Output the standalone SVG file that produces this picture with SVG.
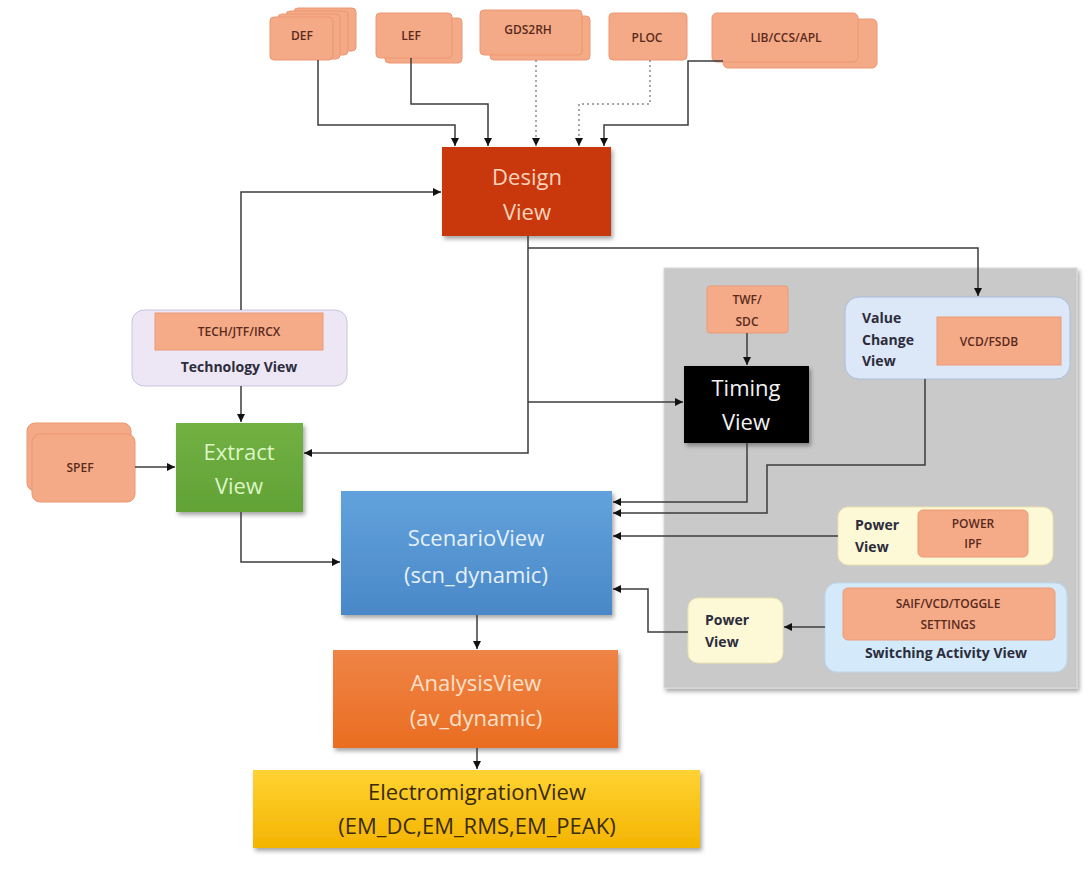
<svg xmlns="http://www.w3.org/2000/svg" width="1091" height="878" viewBox="0 0 1091 878">
<defs>
<style>
text{font-family:"Open Sans","Liberation Sans",sans-serif}
.pe{fill:#f5aa87;stroke:#eb9772;stroke-width:1}
.pt{font-size:12px;font-weight:600;fill:#5a2a1c;text-anchor:middle}
.bl{font-size:14px;font-weight:bold;fill:#2c2c3c}
.big{font-size:22px;text-anchor:middle}
.ln{fill:none;stroke:#3c3c3c;stroke-width:1.5}
.dt{fill:none;stroke:#8a8a8a;stroke-width:1.5;stroke-dasharray:2 3}
</style>
<marker id="ah" viewBox="0 0 10 10" refX="10" refY="5" markerWidth="8" markerHeight="8" markerUnits="userSpaceOnUse" orient="auto">
<path d="M0,0 L10,5 L0,10 z" fill="#111"/>
</marker>
<filter id="sh" x="-10%" y="-10%" width="125%" height="130%">
<feDropShadow dx="2" dy="3" stdDeviation="2" flood-color="#000" flood-opacity="0.35"/>
</filter>
<linearGradient id="gScn" x1="0" y1="0" x2="0" y2="1"><stop offset="0" stop-color="#62a2dc"/><stop offset="1" stop-color="#4a88c8"/></linearGradient>
<linearGradient id="gAn" x1="0" y1="0" x2="0" y2="1"><stop offset="0" stop-color="#ef8446"/><stop offset="1" stop-color="#ea6d22"/></linearGradient>
<linearGradient id="gEm" x1="0" y1="0" x2="0" y2="1"><stop offset="0" stop-color="#ffd333"/><stop offset="1" stop-color="#f4b400"/></linearGradient>
<linearGradient id="gEx" x1="0" y1="0" x2="0" y2="1"><stop offset="0" stop-color="#72b043"/><stop offset="1" stop-color="#62a236"/></linearGradient>
</defs>
<rect width="1091" height="878" fill="#fff"/>

<g id="panel">
<rect x="664" y="268" width="413" height="420" fill="#c9c9c9" stroke="#d8d8d8" filter="url(#sh)"/>
</g>

<g id="def">
<rect class="pe" x="294" y="8" width="62" height="43" rx="4"/>
<rect class="pe" x="286" y="11" width="62" height="44" rx="4"/>
<rect class="pe" x="278" y="14" width="62" height="45" rx="4"/>
<rect class="pe" x="270" y="17" width="63" height="43" rx="4"/>
<text class="pt" x="302" y="40">DEF</text>
</g>
<g id="lef">
<rect class="pe" x="385" y="18" width="77" height="45" rx="4"/>
<rect class="pe" x="376" y="13" width="76" height="45" rx="4"/>
<text class="pt" x="411" y="40">LEF</text>
</g>
<g id="gds2rh">
<rect class="pe" x="490" y="16" width="100" height="44" rx="4"/>
<rect class="pe" x="480" y="10" width="102" height="45" rx="4"/>
<text class="pt" x="528" y="34">GDS2RH</text>
</g>
<g id="ploc">
<rect class="pe" x="609" y="13" width="78" height="47" rx="4"/>
<text class="pt" x="647" y="42">PLOC</text>
</g>
<g id="lib">
<rect class="pe" x="723" y="19" width="154" height="49" rx="5"/>
<rect class="pe" x="712" y="13" width="146" height="49" rx="5"/>
<text class="pt" x="786" y="42">LIB/CCS/APL</text>
</g>

<g id="design">
<rect x="442" y="147" width="169" height="89" fill="#c9390f" filter="url(#sh)"/>
<text class="big" x="527" y="185" fill="#fbd3bd">Design</text>
<text class="big" x="527" y="220" fill="#fbd3bd">View</text>
</g>

<g id="tech">
<rect x="132" y="310" width="215" height="76" rx="12" fill="#ede7f5" stroke="#cbc2dd"/>
<rect x="155" y="313" width="168" height="37" fill="#f5ab88" stroke="#ec9a76"/>
<text class="pt" x="239" y="336">TECH/JTF/IRCX</text>
<text class="bl" x="239" y="372" text-anchor="middle">Technology View</text>
</g>

<g id="spef">
<rect class="pe" x="27" y="423" width="104" height="68" rx="8"/>
<rect class="pe" x="32" y="434" width="103" height="68" rx="8"/>
<text class="pt" x="80" y="472">SPEF</text>
</g>

<g id="extract">
<rect x="176" y="423" width="127" height="89" fill="url(#gEx)" filter="url(#sh)"/>
<text class="big" x="239" y="460" fill="#dcf6c6">Extract</text>
<text class="big" x="239" y="494" fill="#dcf6c6">View</text>
</g>

<g id="scenario">
<rect x="341" y="491" width="271" height="124" fill="url(#gScn)" filter="url(#sh)"/>
<text class="big" x="476" y="546" fill="#e6f0fb">ScenarioView</text>
<text class="big" x="476" y="583" fill="#e6f0fb">(scn_dynamic)</text>
</g>

<g id="analysis">
<rect x="333" y="650" width="285" height="98" fill="url(#gAn)" filter="url(#sh)"/>
<text class="big" x="476" y="691" fill="#fde0cb">AnalysisView</text>
<text class="big" x="476" y="726" fill="#fde0cb">(av_dynamic)</text>
</g>

<g id="em">
<rect x="253" y="770" width="447" height="78" fill="url(#gEm)" filter="url(#sh)"/>
<text class="big" x="477" y="800" fill="#3a2c08" font-size="23">ElectromigrationView</text>
<text class="big" x="477" y="834" fill="#3a2c08" font-size="23">(EM_DC,EM_RMS,EM_PEAK)</text>
</g>

<g id="twf">
<rect x="707" y="286" width="81" height="47" rx="3" fill="#f5ab88" stroke="#ec9a76"/>
<text class="pt" x="747" y="304">TWF/</text>
<text class="pt" x="747" y="326">SDC</text>
</g>

<g id="timing">
<rect x="684" y="366" width="125" height="77" fill="#050505" filter="url(#sh)"/>
<text class="big" x="746" y="396" fill="#f2f2f2" font-size="24">Timing</text>
<text class="big" x="746" y="430" fill="#f2f2f2" font-size="24">View</text>
</g>

<g id="valuechange">
<rect x="845" y="297" width="225" height="82" rx="14" fill="#dce7f7" stroke="#a9bedd"/>
<text class="bl" x="862" y="323">Value</text>
<text class="bl" x="862" y="345">Change</text>
<text class="bl" x="862" y="366">View</text>
<rect x="937" y="317" width="124" height="48" fill="#f5ab88" stroke="#ec9a76"/>
<text class="pt" x="989" y="346">VCD/FSDB</text>
</g>

<g id="power1">
<rect x="838" y="507" width="215" height="58" rx="10" fill="#fdf9d6" stroke="#ebe3ad"/>
<text class="bl" x="855" y="530">Power</text>
<text class="bl" x="855" y="552">View</text>
<rect x="918" y="510" width="110" height="47" rx="5" fill="#f5ab88" stroke="#ec9a76"/>
<text class="pt" x="973" y="528">POWER</text>
<text class="pt" x="973" y="548">IPF</text>
</g>

<g id="switching">
<rect x="825" y="583" width="242" height="89" rx="12" fill="#d4eafa" stroke="#bcd9ef"/>
<rect x="843" y="588" width="212" height="52" rx="5" fill="#f5ab88" stroke="#ec9a76"/>
<text class="pt" x="948" y="608" font-size="13">SAIF/VCD/TOGGLE</text>
<text class="pt" x="948" y="629" font-size="13">SETTINGS</text>
<text class="bl" x="946" y="658" text-anchor="middle">Switching Activity View</text>
</g>

<g id="power2">
<rect x="688" y="598" width="95" height="65" rx="10" fill="#fdf9d6" stroke="#ebe3ad"/>
<text class="bl" x="705" y="625">Power</text>
<text class="bl" x="705" y="647">View</text>
</g>

<g id="connectors">
<polyline class="ln" points="318,60 318,125 455,125 455,146" marker-end="url(#ah)"/>
<polyline class="ln" points="411,58 411,104 488,104 488,146" marker-end="url(#ah)"/>
<polyline class="dt" points="536,60 536,146" marker-end="url(#ah)"/>
<polyline class="dt" points="650,60 650,104 579,104 579,146" marker-end="url(#ah)"/>
<polyline class="ln" points="723,61 688,61 688,125 604,125 604,146" marker-end="url(#ah)"/>
<polyline class="ln" points="241,310 241,192 441,192" marker-end="url(#ah)"/>
<polyline class="ln" points="528,236 528,453 304,453" marker-end="url(#ah)"/>
<polyline class="ln" points="528,248 978,248 978,296" marker-end="url(#ah)"/>
<polyline class="ln" points="528,402 683,402" marker-end="url(#ah)"/>
<polyline class="ln" points="241,386 241,422" marker-end="url(#ah)"/>
<polyline class="ln" points="135,467 175,467" marker-end="url(#ah)"/>
<polyline class="ln" points="241,512 241,562 340,562" marker-end="url(#ah)"/>
<polyline class="ln" points="747,333 747,365" marker-end="url(#ah)"/>
<polyline class="ln" points="747,443 747,502 613,502" marker-end="url(#ah)"/>
<polyline class="ln" points="925,379 925,465 767,465 767,513 613,513" marker-end="url(#ah)"/>
<polyline class="ln" points="838,536 613,536" marker-end="url(#ah)"/>
<polyline class="ln" points="688,632 648,632 648,589 613,589" marker-end="url(#ah)"/>
<polyline class="ln" points="825,627 784,627" marker-end="url(#ah)"/>
<polyline class="ln" points="477,615 477,649" marker-end="url(#ah)"/>
<polyline class="ln" points="477,748 477,769" marker-end="url(#ah)"/>
</g>
</svg>
